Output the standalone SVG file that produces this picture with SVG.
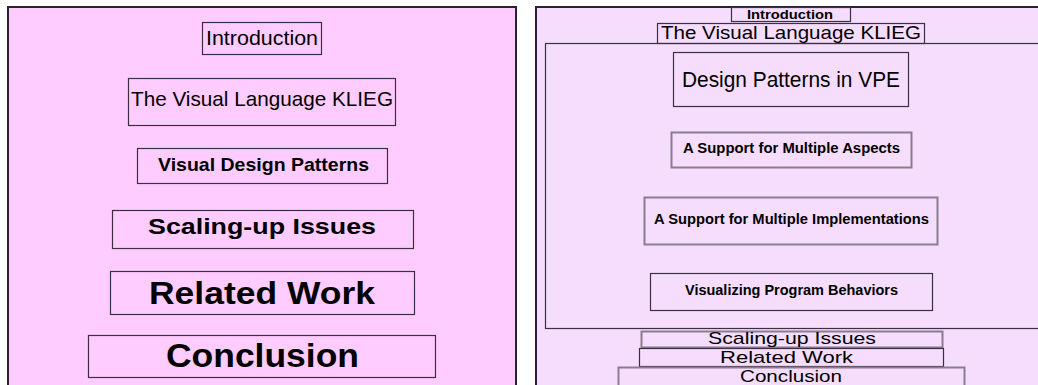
<svg xmlns="http://www.w3.org/2000/svg" width="1038" height="385" viewBox="0 0 1038 385">
<style>
.panelL{fill:#ffccff;stroke:#2b2230;stroke-width:2}
.panelR{fill:#f6ddfd;stroke:#2b2230;stroke-width:2}
.box{fill:none;stroke:#3a3040;stroke-width:1.2}
.gbox{fill:none;stroke:#8a7d8e;stroke-width:2}
text{font-family:"Liberation Sans",Arial,sans-serif;fill:#000;text-anchor:middle}
.b{font-weight:bold}
</style>
<rect width="1038" height="385" fill="#ffffff"/>
<g id="panel-left">
<rect class="panelL" x="8" y="7" width="508" height="400"/>
</g>
<g id="panel-right">
<rect class="panelR" x="536" y="7" width="520" height="400"/>
</g>
<g id="connectors"></g>
<g id="l-intro"><rect class="box" x="202.5" y="22.5" width="119" height="32"/><text x="262" y="45" font-size="21" textLength="112" lengthAdjust="spacingAndGlyphs">Introduction</text></g>
<g id="l-klieg"><rect class="box" x="128.5" y="78.5" width="267" height="47"/><text x="262" y="106" font-size="21" textLength="262" lengthAdjust="spacingAndGlyphs">The Visual Language KLIEG</text></g>
<g id="l-vdp"><rect class="box" x="137.5" y="148.5" width="250" height="35"/><text x="263.5" y="171" font-size="19" class="b" textLength="211" lengthAdjust="spacingAndGlyphs">Visual Design Patterns</text></g>
<g id="l-scaling"><rect class="box" x="112.5" y="210.5" width="301" height="38"/><text x="262" y="234" font-size="22.5" class="b" textLength="228" lengthAdjust="spacingAndGlyphs">Scaling-up Issues</text></g>
<g id="l-related"><rect class="box" x="110.5" y="271.5" width="304" height="43"/><text x="262" y="304" font-size="31" class="b" textLength="226" lengthAdjust="spacingAndGlyphs">Related Work</text></g>
<g id="l-conclusion"><rect class="box" x="88.5" y="335.5" width="347" height="42"/><text x="262.5" y="367" font-size="33" class="b" textLength="193" lengthAdjust="spacingAndGlyphs">Conclusion</text></g>
<g id="r-intro"><rect class="box" x="731.5" y="7.5" width="119" height="14"/><text x="790" y="19" font-size="13" class="b" textLength="86" lengthAdjust="spacingAndGlyphs">Introduction</text></g>
<g id="r-klieg"><rect class="box" x="657.5" y="23.5" width="267" height="20"/><text x="791" y="38.5" font-size="18.5" textLength="260" lengthAdjust="spacingAndGlyphs">The Visual Language KLIEG</text></g>
<g id="r-vdp"><rect class="box" x="545.5" y="43.5" width="500" height="285"/></g>
<g id="r-dpvpe"><rect class="box" x="673.5" y="52.5" width="235" height="54"/><text x="791" y="87" font-size="22" textLength="218" lengthAdjust="spacingAndGlyphs">Design Patterns in VPE</text></g>
<g id="r-aspects"><rect class="gbox" x="671.5" y="132.5" width="240" height="35"/><text x="791.5" y="153" font-size="14" class="b" textLength="217" lengthAdjust="spacingAndGlyphs">A Support for Multiple Aspects</text></g>
<g id="r-impl"><rect class="gbox" x="644.5" y="197.5" width="293" height="47"/><text x="791.5" y="224" font-size="14" class="b" textLength="275" lengthAdjust="spacingAndGlyphs">A Support for Multiple Implementations</text></g>
<g id="r-behaviors"><rect class="box" x="650.5" y="273.5" width="282" height="37"/><text x="791.5" y="295" font-size="14" class="b" textLength="213" lengthAdjust="spacingAndGlyphs">Visualizing Program Behaviors</text></g>
<g id="r-scaling"><rect class="gbox" x="641.5" y="331.5" width="301" height="16"/><text x="792" y="344" font-size="17" textLength="168" lengthAdjust="spacingAndGlyphs">Scaling-up Issues</text></g>
<g id="r-related"><rect class="box" x="639.5" y="348.5" width="304" height="18"/><text x="786.5" y="362.5" font-size="17" textLength="133" lengthAdjust="spacingAndGlyphs">Related Work</text></g>
<g id="r-conclusion"><rect class="gbox" x="618.5" y="367.5" width="346" height="20"/><text x="791" y="382" font-size="17" textLength="102" lengthAdjust="spacingAndGlyphs">Conclusion</text></g>
</svg>
